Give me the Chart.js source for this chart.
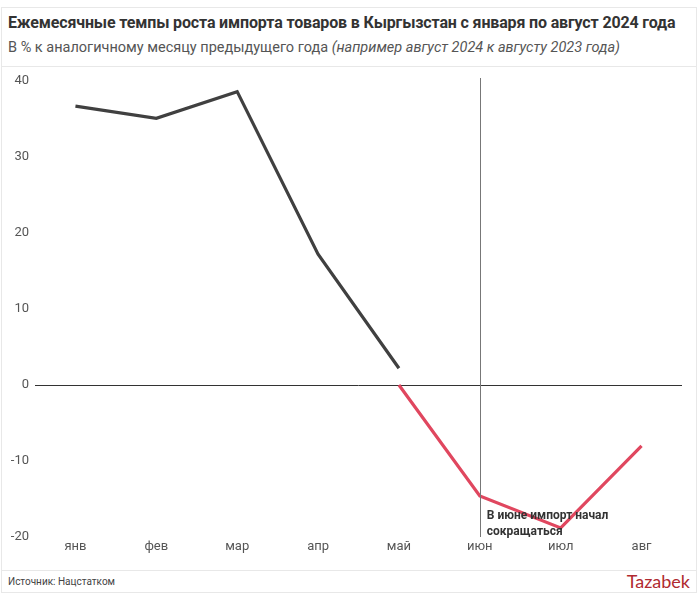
<!DOCTYPE html>
<html>
<head>
<meta charset="utf-8">
<script src="https://cdn.jsdelivr.net/npm/chart.js@4.4.1/dist/chart.umd.min.js"></script>
<style>
  body { margin: 0; background: #fff; font-family: Roboto, "Noto Sans", sans-serif; }
  #wrap { position: relative; width: 700px; height: 597px; overflow: hidden; }
  #frame { position: absolute; left: 1px; top: 7px; width: 696px; height: 586px; border: 1px solid #e8e8e8; box-sizing: border-box; }
  #title { position: absolute; left: 8px; top: 13px; font-size: 16px; font-weight: bold; color: #333; white-space: nowrap; letter-spacing: -0.15px; }
  #sub { position: absolute; left: 8px; top: 39px; font-size: 14.5px; color: #555; white-space: nowrap; }
  #sub i { color: #555; }
  .rule { position: absolute; left: 2px; width: 695px; height: 1px; background: #e8e8e8; }
  #src { position: absolute; left: 8px; top: 576px; font-size: 10px; color: #444; }
  #logo { position: absolute; right: 10px; top: 570px; font-size: 18px; color: #b02a30; font-family: Lato, sans-serif; }
  #box { position: absolute; left: 0; top: 66px; width: 700px; height: 504px; }
</style>
</head>
<body>
<div id="wrap">
  <div id="frame"></div>
  <div id="title">Ежемесячные темпы роста импорта товаров в Кыргызстан с января по август 2024 года</div>
  <div id="sub">В % к аналогичному месяцу предыдущего года <i>(например август 2024 к августу 2023 года)</i></div>
  <div class="rule" style="top:66px"></div>
  <div id="box"><canvas id="chart"></canvas></div>
  <div class="rule" style="top:570px"></div>
  <div id="src">Источник: Нацстатком</div>
  <div id="logo">Tazabek</div>
</div>
<script>
const months = ["янв", "фев", "мар", "апр", "май", "июн", "июл", "авг"];
const growthUp = [36.7, 35.1, 38.6, 17.2, 2.2, null, null, null];
const growthDown = [null, null, null, null, 0, -14.6, -18.8, -8.0];
const yTicks = [-20, -10, 0, 10, 20, 30, 40];
const noteMonth = "июн";
const noteLines = ["В июне импорт начал", "сокращаться"];

const notePlugin = {
  id: "note",
  afterDatasetsDraw(chart) {
    const ctx = chart.ctx;
    const x = chart.scales.x.getPixelForValue(months.indexOf(noteMonth));
    const area = chart.chartArea;
    ctx.save();
    ctx.strokeStyle = "#777";
    ctx.lineWidth = 1;
    ctx.beginPath();
    ctx.moveTo(Math.round(x) + 0.5, area.top - 3);
    ctx.lineTo(Math.round(x) + 0.5, area.bottom);
    ctx.stroke();
    ctx.fillStyle = "#333";
    ctx.font = "bold 12px Roboto, sans-serif";
    ctx.textBaseline = "middle";
    const y0 = chart.scales.y.getPixelForValue(-17.2);
    noteLines.forEach((t, i) => ctx.fillText(t, x + 7, y0 + i * 16));
    ctx.restore();
  }
};

new Chart(document.getElementById("chart"), {
  type: "line",
  data: {
    labels: months,
    datasets: [
      { data: growthUp, borderColor: "#404040", borderWidth: 3.2, pointRadius: 0, tension: 0 },
      { data: growthDown, borderColor: "#e0475f", borderWidth: 3.2, pointRadius: 0, tension: 0 }
    ]
  },
  options: {
    responsive: true,
    maintainAspectRatio: false,
    animation: false,
    layout: { padding: { top: 15, right: 18, bottom: 0, left: 0 } },
    plugins: { legend: { display: false }, tooltip: { enabled: false } },
    scales: {
      x: {
        offset: true,
        grid: { display: false, drawTicks: false },
        border: { display: false },
        ticks: { color: "#555", font: { size: 13, family: "Roboto" }, padding: 2 },
        afterFit(s) { s.height = 33; }
      },
      y: {
        min: -20,
        max: 40,
        afterBuildTicks(s) { s.ticks = yTicks.map(v => ({ value: v })); },
        grid: {
          drawTicks: false,
          color: c => (c.tick && c.tick.value === 0 ? "#333" : "rgba(0,0,0,0)"),
          lineWidth: 1
        },
        border: { display: false },
        ticks: { color: "#555", font: { size: 13, family: "Roboto" }, padding: 6 },
        afterFit(s) { s.width = 35; }
      }
    }
  },
  plugins: [notePlugin]
});
</script>
</body>
</html>
